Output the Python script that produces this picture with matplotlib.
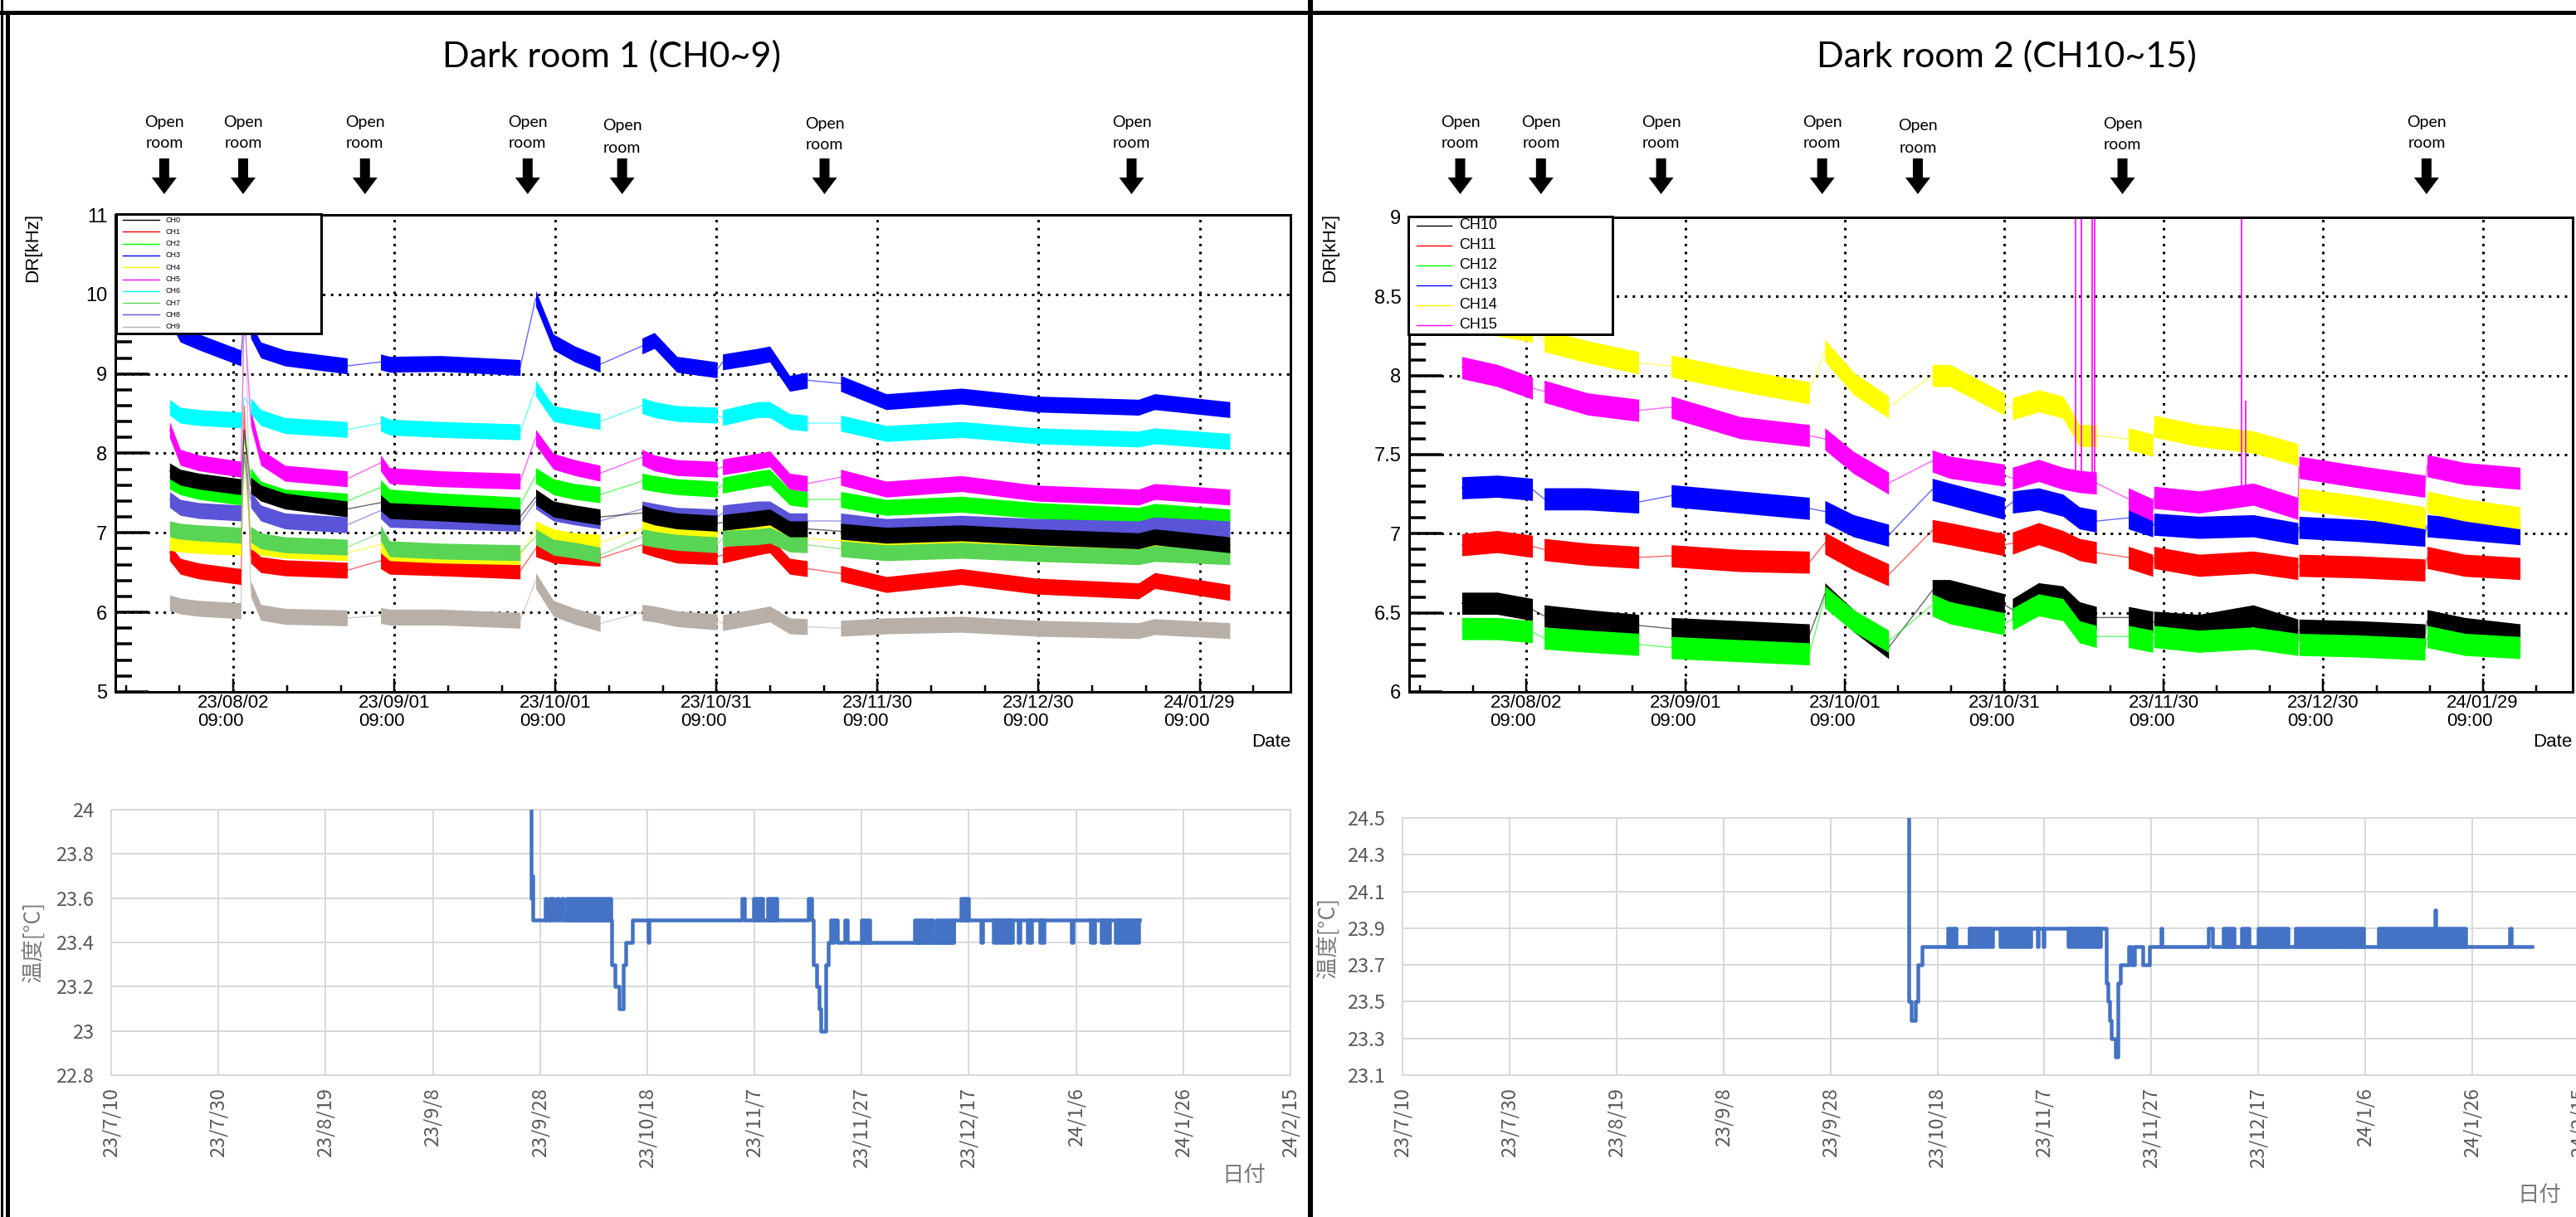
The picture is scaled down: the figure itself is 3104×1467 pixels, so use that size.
import numpy as np
import matplotlib
matplotlib.use("Agg")
import matplotlib.pyplot as plt
from matplotlib.patches import Rectangle, Polygon

W, H = 3104, 1467

# x values are days counted from 2023-07-10 00:00

# ---------------- dark room 1, DR bands (centre of each noisy band) ----------------
L_NAMES = ["CH0", "CH1", "CH2", "CH3", "CH4", "CH5", "CH6", "CH7", "CH8", "CH9"]
L_COLORS = ["#000000", "#ff0000", "#00ff00", "#0000ff", "#ffff00",
            "#ff00ff", "#00ffff", "#59d454", "#5954d8", "#b8b0a8"]
L_SEG_DAYS = [
    [11.5, 13.5, 17, 24.8],
    [26.6, 28.5, 33, 44.6],
    [50.8, 52.5, 62, 76.8],
    [79.7, 83, 87, 91.7],
    [99.5, 101.8, 106, 113.5],
    [114.5, 121, 123.3, 127, 130.3],
    [136.5, 145, 159, 173, 192, 195, 209],
]
L_CH0 = [[7.78, 7.7, 7.65, 7.58], [7.6, 7.5, 7.4, 7.3], [7.38, 7.28, 7.25, 7.2],
         [7.45, 7.3, 7.25, 7.2], [7.25, 7.2, 7.15, 7.12], [7.13, 7.18, 7.2, 7.05, 7.05],
         [7.02, 6.97, 7.0, 6.95, 6.9, 6.95, 6.85]]
L_CH1 = [[6.75, 6.58, 6.52, 6.45], [6.72, 6.6, 6.56, 6.53], [6.65, 6.58, 6.56, 6.52],
         [6.8, 6.72, 6.7, 6.68], [6.85, 6.8, 6.72, 6.7], [6.72, 6.82, 6.85, 6.58, 6.55],
         [6.49, 6.35, 6.45, 6.33, 6.27, 6.4, 6.25]]
L_CH2 = [[7.65, 7.58, 7.52, 7.45], [7.72, 7.55, 7.45, 7.4], [7.57, 7.45, 7.4, 7.35],
         [7.72, 7.58, 7.52, 7.48], [7.65, 7.62, 7.58, 7.55], [7.6, 7.68, 7.7, 7.45, 7.42],
         [7.42, 7.32, 7.36, 7.28, 7.22, 7.27, 7.2]]
L_CH3 = [[9.75, 9.5, 9.4, 9.2], [9.55, 9.3, 9.2, 9.1], [9.15, 9.12, 9.13, 9.08],
         [9.95, 9.4, 9.25, 9.12], [9.35, 9.42, 9.12, 9.05], [9.15, 9.22, 9.25, 8.88, 8.92],
         [8.88, 8.65, 8.72, 8.62, 8.58, 8.65, 8.55]]
L_CH4 = [[6.88, 6.86, 6.84, 6.82], [6.9, 6.82, 6.78, 6.75], [6.85, 6.75, 6.72, 6.7],
         [7.05, 6.95, 6.9, 6.88], [7.05, 7.03, 7.0, 6.98], [7.05, 7.05, 7.08, 6.95, 6.93],
         [6.9, 6.88, 6.9, 6.86, 6.84, 6.88, 6.84]]
L_CH5 = [[8.3, 7.95, 7.88, 7.8], [8.45, 7.95, 7.75, 7.68], [7.88, 7.72, 7.68, 7.65],
         [8.2, 7.9, 7.82, 7.75], [7.95, 7.88, 7.82, 7.8], [7.83, 7.9, 7.93, 7.65, 7.62],
         [7.7, 7.55, 7.62, 7.5, 7.45, 7.52, 7.45]]
L_CH6 = [[8.58, 8.48, 8.45, 8.42], [8.6, 8.45, 8.35, 8.3], [8.38, 8.33, 8.3, 8.27],
         [8.82, 8.5, 8.45, 8.4], [8.6, 8.55, 8.5, 8.48], [8.45, 8.55, 8.55, 8.4, 8.38],
         [8.38, 8.25, 8.3, 8.22, 8.18, 8.22, 8.15]]
L_CH7 = [[7.05, 7.02, 7.0, 6.97], [6.98, 6.9, 6.85, 6.82], [7.0, 6.8, 6.77, 6.75],
         [6.95, 6.82, 6.78, 6.72], [6.95, 6.92, 6.88, 6.85], [6.93, 6.95, 6.97, 6.86, 6.85],
         [6.8, 6.75, 6.78, 6.74, 6.7, 6.74, 6.7]]
L_CH8 = [[7.42, 7.32, 7.28, 7.25], [7.42, 7.25, 7.15, 7.1], [7.28, 7.17, 7.15, 7.12],
         [7.4, 7.25, 7.2, 7.15], [7.3, 7.27, 7.22, 7.2], [7.25, 7.3, 7.3, 7.15, 7.15],
         [7.15, 7.08, 7.12, 7.08, 7.05, 7.1, 7.05]]
L_CH9 = [[6.12, 6.08, 6.05, 6.02], [6.3, 6.0, 5.95, 5.93], [5.96, 5.94, 5.94, 5.9],
         [6.4, 6.05, 5.95, 5.86], [6.0, 5.98, 5.92, 5.88], [5.87, 5.95, 5.98, 5.83, 5.82],
         [5.8, 5.83, 5.85, 5.8, 5.77, 5.82, 5.77]]
L_DATA = [L_CH0, L_CH1, L_CH2, L_CH3, L_CH4, L_CH5, L_CH6, L_CH7, L_CH8, L_CH9]
L_SPIKE_DAY = 25.4
L_SPIKE = [8.3, 8.6, 8.2, 9.8, 8.0, 9.8, 8.7, 8.0, 8.0, 10.8]
L_ORDER = [1, 2, 3, 4, 5, 6, 7, 8, 0, 9]

# ---------------- dark room 2, DR bands ----------------
R_NAMES = ["CH10", "CH11", "CH12", "CH13", "CH14", "CH15"]
R_COLORS = ["#000000", "#ff0000", "#00ff00", "#0000ff", "#ffff00", "#ff00ff"]
R_SEG_DAYS = [
    [11.3, 18, 24.6],
    [26.8, 35, 44.6],
    [50.7, 63.7, 76.7],
    [79.6, 85, 91.6],
    [99.8, 103.1, 113.4],
    [114.9, 119.8, 124.4, 127.5, 130.7],
    [136.7, 141.3],
    [141.5, 150, 160.2, 168.6],
    [168.8, 180, 192.5],
    [192.9, 200, 210.4],
]
R_CH10 = [[6.56, 6.56, 6.52], [6.48, 6.45, 6.42], [6.4, 6.38, 6.36], [6.62, 6.45, 6.28],
          [6.64, 6.64, 6.55], [6.52, 6.62, 6.6, 6.5, 6.47], [6.47, 6.44],
          [6.44, 6.42, 6.48, 6.39], [6.39, 6.38, 6.36], [6.45, 6.4, 6.36]]
R_CH11 = [[6.93, 6.95, 6.92], [6.9, 6.87, 6.85], [6.86, 6.83, 6.82], [6.94, 6.84, 6.74],
          [7.02, 7.0, 6.93], [6.94, 7.0, 6.95, 6.9, 6.88], [6.85, 6.8],
          [6.85, 6.8, 6.82, 6.78], [6.8, 6.79, 6.77], [6.85, 6.8, 6.78]]
R_CH12 = [[6.4, 6.4, 6.38], [6.34, 6.32, 6.3], [6.28, 6.26, 6.24], [6.6, 6.45, 6.32],
          [6.55, 6.5, 6.43], [6.46, 6.55, 6.52, 6.38, 6.35], [6.35, 6.32],
          [6.35, 6.32, 6.34, 6.3], [6.3, 6.29, 6.27], [6.35, 6.3, 6.28]]
R_CH13 = [[7.29, 7.3, 7.28], [7.22, 7.22, 7.2], [7.24, 7.2, 7.16], [7.14, 7.05, 6.99],
          [7.28, 7.25, 7.16], [7.2, 7.22, 7.18, 7.1, 7.08], [7.1, 7.05],
          [7.06, 7.04, 7.05, 7.0], [7.04, 7.02, 6.99], [7.05, 7.03, 7.0]]
R_CH14 = [[8.35, 8.32, 8.28], [8.22, 8.15, 8.08], [8.06, 7.97, 7.89], [8.16, 7.95, 7.8],
          [8.0, 8.0, 7.82], [7.79, 7.84, 7.8, 7.62, 7.62], [7.6, 7.56],
          [7.68, 7.62, 7.58, 7.5], [7.22, 7.17, 7.1], [7.2, 7.15, 7.1]]
R_CH15 = [[8.05, 8.0, 7.92], [7.9, 7.82, 7.78], [7.8, 7.67, 7.62], [7.6, 7.45, 7.32],
          [7.46, 7.42, 7.37], [7.35, 7.4, 7.35, 7.33, 7.32], [7.22, 7.15],
          [7.23, 7.2, 7.25, 7.16], [7.42, 7.36, 7.3], [7.43, 7.38, 7.35]]
R_DATA = [R_CH10, R_CH11, R_CH12, R_CH13, R_CH14, R_CH15]
R_SPIKE_DAYS = [126.8, 127.8, 129.9, 130.4, 158.0, 158.8]
R_SPIKE_LOW = [7.33, 7.33, 7.32, 7.32, 7.22, 7.22]
R_SPIKE_HIGH = [9.2, 9.2, 9.2, 9.2, 9.2, 7.84]

ROOT_MAJOR = [23.375, 53.375, 83.375, 113.375, 143.375, 173.375, 203.375]
ROOT_XLABELS = ["23/08/02\n09:00", "23/09/01\n09:00", "23/10/01\n09:00", "23/10/31\n09:00",
                "23/11/30\n09:00", "23/12/30\n09:00", "24/01/29\n09:00"]
OPEN_DAYS_L = [10.5, 25.2, 47.9, 78.2, 95.8, 133.5, 190.7]
OPEN_DAYS_R = [11.0, 26.2, 48.8, 79.1, 97.1, 135.6, 192.8]

# ---------------- temperature (step change points + densely toggling blocks) ----------------
T_XTICKS = [0, 20, 40, 60, 80, 100, 120, 140, 160, 180, 200, 220]
T_XLABELS = ["23/7/10", "23/7/30", "23/8/19", "23/9/8", "23/9/28", "23/10/18",
             "23/11/7", "23/11/27", "23/12/17", "24/1/6", "24/1/26", "24/2/15"]
T1_DAYS = [78.3, 78.4, 78.45, 78.6,
           80.9, 81.1, 81.7, 81.9, 82.2, 82.5, 83.2, 83.4, 84.1, 84.4,
           93.3, 93.9, 94.8, 95.6, 96.0, 97.3, 100.1, 100.4,
           117.7, 118.1, 130.0, 130.7,
           131.0, 131.6, 132.0, 132.3, 133.3, 133.7, 134.2, 134.5, 134.8, 135.4,
           136.8, 137.3, 157.2, 162.2, 162.5, 169.2, 169.5, 179.1, 179.4, 191.8]
T1_VALS = [24.3, 23.6, 23.7, 23.5,
           23.6, 23.5, 23.6, 23.5, 23.6, 23.5, 23.6, 23.5, 23.6, 23.5,
           23.3, 23.2, 23.1, 23.3, 23.4, 23.5, 23.4, 23.5,
           23.6, 23.5, 23.6, 23.5,
           23.3, 23.2, 23.1, 23.0, 23.3, 23.4, 23.5, 23.4, 23.5, 23.4,
           23.5, 23.4, 23.5, 23.4, 23.5, 23.4, 23.5, 23.4, 23.5, 23.5]
T1_BLOCKS = [(85.0, 93.2, 23.5, 23.6), (119.9, 121.6, 23.5, 23.6), (122.4, 124.1, 23.5, 23.6),
             (139.9, 141.5, 23.4, 23.5), (149.8, 153.2, 23.4, 23.5), (153.9, 157.1, 23.4, 23.5),
             (158.6, 159.9, 23.5, 23.6), (164.6, 168.1, 23.4, 23.5), (170.9, 171.7, 23.4, 23.5),
             (173.2, 174.0, 23.4, 23.5), (182.7, 183.5, 23.4, 23.5), (184.7, 186.2, 23.4, 23.5),
             (187.4, 191.7, 23.4, 23.5)]
T2_DAYS = [94.5, 94.6, 95.1, 95.9, 96.3, 97.2, 106.0,
           131.5, 131.8, 132.2, 132.5, 133.2, 133.8, 134.2, 135.8, 136.2, 136.9, 138.4, 139.6,
           141.8, 142.0, 150.7, 151.4,
           193.0, 193.15, 207.0, 207.3, 211.2]
T2_VALS = [24.6, 23.5, 23.4, 23.5, 23.7, 23.8, 23.9,
           23.6, 23.5, 23.4, 23.3, 23.2, 23.6, 23.7, 23.8, 23.7, 23.8, 23.7, 23.8,
           23.9, 23.8, 23.9, 23.8,
           24.0, 23.8, 23.9, 23.8, 23.8]
T2_BLOCKS = [(101.9, 103.5, 23.8, 23.9), (105.9, 110.3, 23.8, 23.9), (111.7, 117.4, 23.8, 23.9),
             (118.7, 118.9, 23.8, 23.9), (119.7, 119.9, 23.8, 23.9), (124.4, 130.5, 23.8, 23.9),
             (153.5, 155.5, 23.8, 23.9), (156.9, 158.2, 23.8, 23.9), (159.9, 165.5, 23.8, 23.9),
             (166.9, 175.4, 23.8, 23.9), (175.8, 179.7, 23.8, 23.9), (182.5, 198.8, 23.8, 23.9)]

ROOT_FONT = ["Liberation Sans Narrow", "Liberation Sans", "DejaVu Sans"]
PPT_FONT = ["Lato", "DejaVu Sans"]
CJK = ["Noto Sans CJK JP", "DejaVu Sans"]
TEMP_BLUE = "#4472c4"
PX = 0.72  # points per pixel at dpi 100

plt.rcParams["font.family"] = ["Liberation Sans", "DejaVu Sans"]
fig = plt.figure(figsize=(W / 100, H / 100), dpi=100)


def rect(x0, y0, x1, y1):
    return [x0 / W, 1 - y1 / H, (x1 - x0) / W, (y1 - y0) / H]


def root_axes(pos, ylim, ymajor, ylabels, yminor):
    ax = fig.add_axes(pos)
    ax.set_xlim(1.4, 220.3)
    ax.set_ylim(*ylim)
    ax.set_xticks(ROOT_MAJOR)
    ax.set_xticklabels(ROOT_XLABELS)
    ax.set_xticks([3.375 + 10 * k for k in range(22) if k % 3 != 2], minor=True)
    ax.set_yticks(ymajor)
    ax.set_yticklabels(ylabels)
    ax.set_yticks(yminor, minor=True)
    ax.tick_params(axis="x", which="major", direction="in", length=16 * PX, width=2.5 * PX,
                   pad=2, labelsize=16)
    ax.tick_params(axis="x", which="minor", direction="in", length=8 * PX, width=2.5 * PX)
    ax.tick_params(axis="y", which="major", direction="in", length=40 * PX, width=3.5 * PX,
                   pad=7, labelsize=17)
    ax.tick_params(axis="y", which="minor", direction="in", length=20 * PX, width=3.5 * PX)
    ax.tick_params(labelfontfamily=ROOT_FONT)
    for lab in ax.get_xticklabels():
        lab.set_multialignment("left")
        lab.set_linespacing(1.05)
    ax.grid(True, which="major", color="black", lw=3 * PX, ls=(0, (1, 2.2)))
    ax.set_axisbelow(True)
    for s in ax.spines.values():
        s.set_linewidth(3 * PX)
    return ax


def draw_bands(ax, seg_days, data, colors, order, hw, spike_day=None, spikes=None):
    for i in order:
        xs, ys = [], []
        for k, (d, v) in enumerate(zip(seg_days, data[i])):
            d = np.asarray(d, float)
            v = np.asarray(v, float)
            ax.fill_between(d, v - hw, v + hw, color=colors[i], lw=0, zorder=2)
            xs += list(d)
            ys += list(v)
            if k == 0 and spike_day is not None:
                xs.append(spike_day)
                ys.append(spikes[i])
        ax.plot(xs, ys, color=colors[i], lw=1.0, zorder=1.8, alpha=0.6)


def temp_axes(pos, ylim, yticks, ylabels):
    ax = fig.add_axes(pos)
    ax.set_xlim(0, 220)
    ax.set_ylim(*ylim)
    ax.set_xticks(T_XTICKS)
    ax.set_xticklabels(T_XLABELS, rotation=90)
    ax.set_yticks(yticks)
    ax.set_yticklabels(ylabels)
    ax.tick_params(length=0, colors="#595959", labelsize=17, labelfontfamily=CJK)
    ax.tick_params(axis="x", pad=11)
    ax.tick_params(axis="y", pad=15)
    ax.grid(True, color="#d9d9d9", lw=2 * PX)
    ax.set_axisbelow(True)
    for s in ax.spines.values():
        s.set_color("#d9d9d9")
        s.set_linewidth(2 * PX)
    return ax


def draw_temp(ax, days, vals, blocks):
    for s, e, lo, hi in blocks:
        ax.fill_between([s, e], [lo, lo], [hi, hi], facecolor=TEMP_BLUE, edgecolor=TEMP_BLUE,
                        lw=4.5 * PX, zorder=3)
    ax.plot(days, vals, drawstyle="steps-post", color=TEMP_BLUE, lw=4.5 * PX, zorder=3)


# ---------------- ROOT plots ----------------
axL = root_axes(rect(139, 259, 1555, 834), (5, 11), list(range(5, 12)),
                [str(v) for v in range(5, 12)],
                [5 + 0.2 * k for k in range(31) if k % 5 != 0])
draw_bands(axL, L_SEG_DAYS, L_DATA, L_COLORS, L_ORDER, 0.1, L_SPIKE_DAY, L_SPIKE)

r_major = [6, 6.5, 7, 7.5, 8, 8.5, 9]
axR = root_axes(rect(1698, 262, 3100, 834), (6, 9), r_major,
                ["6", "6.5", "7", "7.5", "8", "8.5", "9"],
                [6 + 0.1 * k for k in range(31) if k % 5 != 0])
draw_bands(axR, R_SEG_DAYS, R_DATA, R_COLORS, range(6), 0.07)
axR.vlines(R_SPIKE_DAYS, R_SPIKE_LOW, R_SPIKE_HIGH, color="#ff00ff", lw=1.2, zorder=2.5)

# ---------------- temperature plots ----------------
axT1 = temp_axes(rect(134, 976, 1555, 1296), (22.8, 24.0),
                 [22.8, 23.0, 23.2, 23.4, 23.6, 23.8, 24.0],
                 ["22.8", "23", "23.2", "23.4", "23.6", "23.8", "24"])
draw_temp(axT1, T1_DAYS, T1_VALS, T1_BLOCKS)

axT2 = temp_axes(rect(1690, 986, 3108, 1296), (23.1, 24.5),
                 [23.1, 23.3, 23.5, 23.7, 23.9, 24.1, 24.3, 24.5],
                 ["23.1", "23.3", "23.5", "23.7", "23.9", "24.1", "24.3", "24.5"])
draw_temp(axT2, T2_DAYS, T2_VALS, T2_BLOCKS)

# ---------------- overlay: frames, titles, arrows, legends ----------------
ov = fig.add_axes([0, 0, 1, 1])
ov.set_xlim(0, W)
ov.set_ylim(H, 0)
ov.axis("off")

ov.plot([0, W], [15, 15], color="black", lw=5 * PX)
ov.plot([2, 2], [0, H], color="black", lw=3 * PX)
ov.plot([9, 9], [15, H], color="black", lw=5 * PX)
ov.plot([1579, 1579], [0, H], color="black", lw=6 * PX)

ov.text(737, 68, "Dark room 1 (CH0~9)", fontsize=31, family=PPT_FONT, ha="center", va="center")
ov.text(2418, 68, "Dark room 2 (CH10~15)", fontsize=31, family=PPT_FONT, ha="center", va="center")


def open_room(ax, days):
    for k, d in enumerate(days):
        x = ax.transData.transform((d, ax.get_ylim()[0]))[0]
        dy = 5 if k == 4 else (2 if k == 5 else 0)
        ov.text(x, 147 + dy, "Open", fontsize=14, family=PPT_FONT, ha="center", va="center")
        ov.text(x, 173 + dy, "room", fontsize=14, family=PPT_FONT, ha="center", va="center")
        y0, y1, hl = 191, 234, 20
        ov.add_patch(Polygon([(x - 6, y0), (x + 6, y0), (x + 6, y1 - hl), (x + 15, y1 - hl),
                              (x, y1), (x - 15, y1 - hl), (x - 6, y1 - hl)],
                             closed=True, color="black", lw=0))


open_room(axL, OPEN_DAYS_L)
open_room(axR, OPEN_DAYS_R)

# ROOT axis titles
ov.text(40, 257, "DR[kHz]", rotation=90, fontsize=16, family=ROOT_FONT, ha="center", va="top")
ov.text(1603, 257, "DR[kHz]", rotation=90, fontsize=16, family=ROOT_FONT, ha="center", va="top")
ov.text(1555, 895, "Date", fontsize=16, family=ROOT_FONT, ha="right", va="center")
ov.text(3099, 895, "Date", fontsize=16, family=ROOT_FONT, ha="right", va="center")

# ROOT legends
ov.add_patch(Rectangle((140, 258), 247, 144, facecolor="white", edgecolor="black", lw=3 * PX))
for i, (n, c) in enumerate(zip(L_NAMES, L_COLORS)):
    y = 265 + i * 14.3
    ov.plot([148, 192], [y, y], color=c, lw=1.0)
    ov.text(200, y, n, fontsize=6.5, family=ROOT_FONT, ha="left", va="center")

ov.add_patch(Rectangle((1697, 261), 246, 142, facecolor="white", edgecolor="black", lw=3 * PX))
for i, (n, c) in enumerate(zip(R_NAMES, R_COLORS)):
    y = 272 + i * 24
    ov.plot([1707, 1749], [y, y], color=c, lw=1.0)
    ov.text(1758, y, n, fontsize=13, family=ROOT_FONT, ha="left", va="center")

# temperature axis titles
ov.text(40, 1135, "温度[°C]", rotation=90, fontsize=19, family=CJK, color="#7a7a7a",
        ha="center", va="center")
ov.text(1600, 1130, "温度[°C]", rotation=90, fontsize=19, family=CJK, color="#7a7a7a",
        ha="center", va="center")
ov.text(1499, 1417, "日付", fontsize=19, family=CJK, color="#7a7a7a", ha="center", va="center")
ov.text(3060, 1441, "日付", fontsize=19, family=CJK, color="#7a7a7a", ha="center", va="center")

fig.savefig("out.png", dpi=100)
